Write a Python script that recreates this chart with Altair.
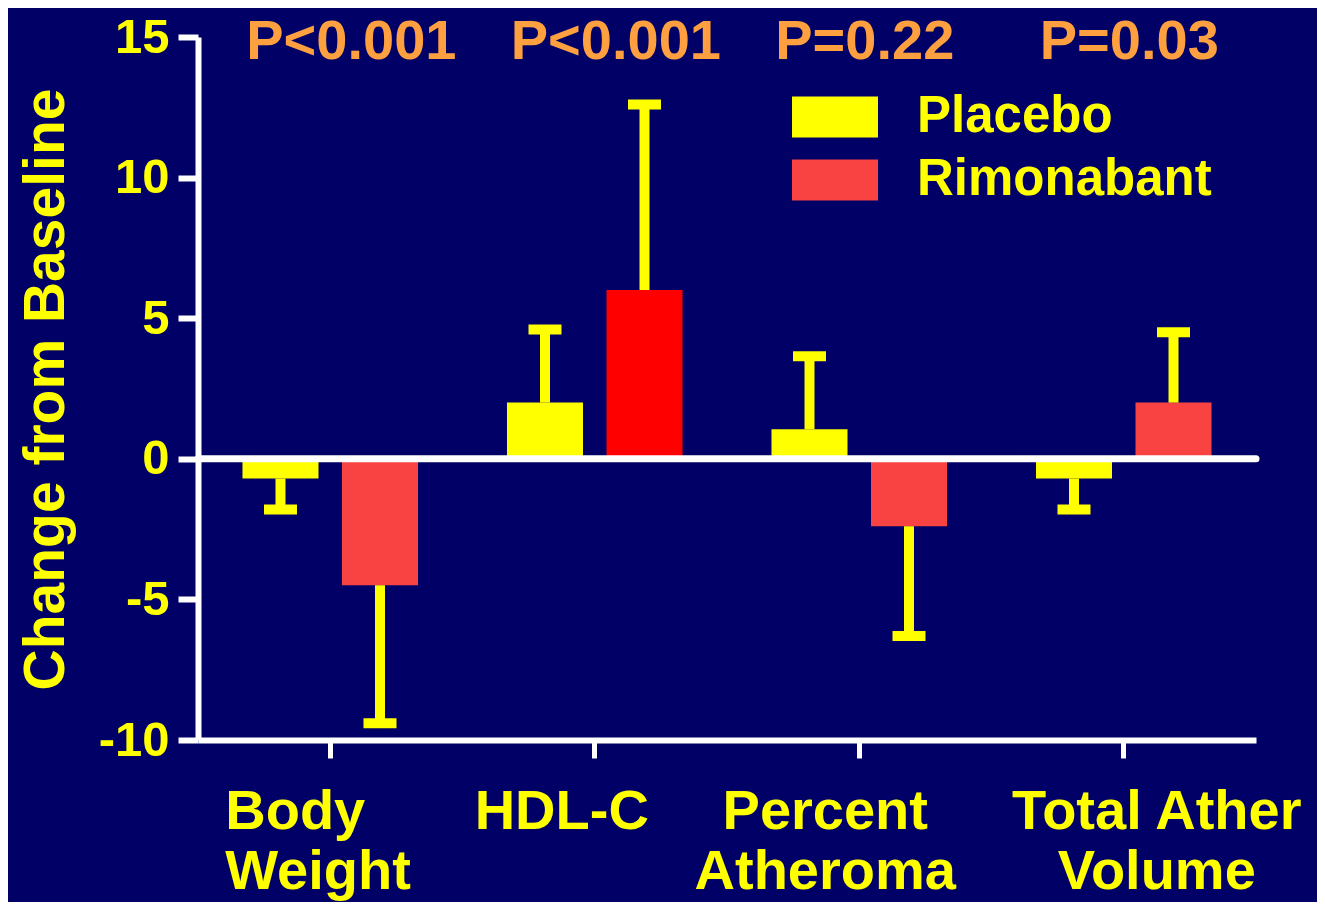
import json
import altair as alt
import pandas as pd

# ---- data ----
measures = ["Body Weight", "HDL-C", "Percent Atheroma", "Total Ather Volume"]
groups = ["Placebo", "Rimonabant"]
placebo_mean = [-0.7, 2.0, 1.05, -0.7]
placebo_err = [-1.8, 4.6, 3.65, -1.8]
rimonabant_mean = [-4.5, 6.0, -2.4, 2.0]
rimonabant_err = [-9.4, 12.6, -6.3, 4.5]
p_values = ["P<0.001", "P<0.001", "P=0.22", "P=0.03"]
label_lines = [["Body", "Weight"], ["HDL-C"], ["Percent", "Atheroma"], ["Total Ather", "Volume"]]
y_ticks = [-10, -5, 0, 5, 10, 15]

# ---- styles ----
BG = "#000066"
YELLOW = "#FFFF00"
RED = "#F94343"
RED_HDL = "#FF0000"
ORANGE = "#FFA040"
WHITE = "#FFFFFF"
FONT = "Liberation Sans"
label_offsets = {"Body Weight": -105, "HDL-C": -33, "Percent Atheroma": -34, "Total Ather Volume": 33}

rows = []
for i, m in enumerate(measures):
    rows.append({"measure": m, "group": "Placebo", "value": placebo_mean[i], "err": placebo_err[i]})
    rows.append({"measure": m, "group": "Rimonabant", "value": rimonabant_mean[i], "err": rimonabant_err[i]})
df = pd.DataFrame(rows)
pdf = pd.DataFrame({"measure": measures, "p": p_values})

label_expr = "''"
for m, lines in reversed(list(zip(measures, label_lines))):
    label_expr = f"datum.value === '{m}' ? {json.dumps(lines)} : {label_expr}"
offset_expr = "0"
for m in reversed(measures):
    offset_expr = f"datum.value === '{m}' ? {label_offsets[m]} : {offset_expr}"
align_expr = "datum.value === 'Body Weight' ? 'left' : 'center'"

x_enc = alt.X(
    "measure:N",
    sort=measures,
    scale=alt.Scale(paddingInner=0, paddingOuter=0),
    axis=alt.Axis(
        title=None,
        labelAngle=0,
        labelExpr=label_expr,
        labelOffset=alt.ExprRef(expr=offset_expr),
        labelAlign=alt.ExprRef(expr=align_expr),
        labelFont=FONT,
        labelFontWeight="bold",
        labelFontSize=56,
        labelColor=YELLOW,
        labelLineHeight=60,
        labelPadding=26,
        labelBaseline="top",
        labelLimit=600,
        labelOverlap=False,
        domainColor=WHITE,
        domainWidth=6,
        tickColor=WHITE,
        tickWidth=5,
        tickSize=18,
    ),
)
xoff = alt.XOffset("group:N", sort=groups, scale=alt.Scale(paddingInner=0.236, paddingOuter=0.447))

y_scale = alt.Scale(domain=[-10, 15], nice=False, zero=False)
y_enc = alt.Y(
    "value:Q",
    scale=y_scale,
    axis=alt.Axis(
        values=y_ticks,
        labelExpr="'' + datum.value",
        title="Change from Baseline",
        titleFont=FONT,
        titleFontWeight="bold",
        titleFontSize=57,
        titleColor=YELLOW,
        titleAngle=-90,
        titleX=-135,
        titleY=352,
        titleAlign="center",
        titleBaseline="alphabetic",
        labelFont=FONT,
        labelFontWeight="bold",
        labelFontSize=49,
        labelColor=YELLOW,
        labelPadding=9,
        domainColor=WHITE,
        domainWidth=6,
        tickColor=WHITE,
        tickWidth=6,
        tickSize=20,
        grid=False,
    ),
)

fill_enc = alt.condition(
    "datum.measure === 'HDL-C' && datum.group === 'Rimonabant'",
    alt.value(RED_HDL),
    alt.Fill(
        "group:N",
        sort=groups,
        scale=alt.Scale(domain=groups, range=[YELLOW, RED]),
        legend=alt.Legend(
            title=None,
            orient="none",
            legendX=607,
            legendY=50,
            padding=0,
            symbolType="M-1.433,-0.683H1.433V0.683H-1.433Z",
            symbolSize=3600,
            symbolStrokeWidth=0,
            symbolOpacity=1,
            labelOffset=52,
            rowPadding=8,
            labelFont=FONT,
            labelFontWeight="bold",
            labelFontSize=51,
            labelColor=YELLOW,
            labelLimit=400,
        ),
    ),
)

base = alt.Chart(df)

bars = base.mark_bar(strokeWidth=0).encode(x=x_enc, xOffset=xoff, y=y_enc, fill=fill_enc)

zero = alt.Chart(pd.DataFrame({"z": [0]})).mark_rule(
    color=WHITE, strokeWidth=7, strokeCap="round"
).encode(y=alt.Y("z:Q", scale=y_scale))

err_line = base.mark_rule(color=YELLOW, strokeWidth=10).encode(
    x=alt.X("measure:N", sort=measures), xOffset=xoff,
    y=alt.Y("value:Q", scale=y_scale), y2="err:Q",
)
caps = base.mark_tick(color=YELLOW, thickness=10, size=33, opacity=1).encode(
    x=alt.X("measure:N", sort=measures), xOffset=xoff,
    y=alt.Y("err:Q", scale=y_scale),
)

ptext = alt.Chart(pdf).mark_text(
    font=FONT, fontWeight="bold", fontSize=56, color=ORANGE,
    align="left", baseline="alphabetic", dx=-84,
).encode(
    x=alt.X("measure:N", sort=measures),
    y=alt.value(22),
    text="p:N",
)

chart = alt.layer(bars, zero, err_line, caps, ptext).properties(
    width=1058,
    height=703,
    background=BG,
    padding={"left": 190, "top": 29, "right": 61, "bottom": 162},
    autosize=alt.AutoSizeParams(type="none"),
).configure_view(strokeWidth=0)

chart.save("out.html", embed_options={"renderer": "svg", "actions": False})
